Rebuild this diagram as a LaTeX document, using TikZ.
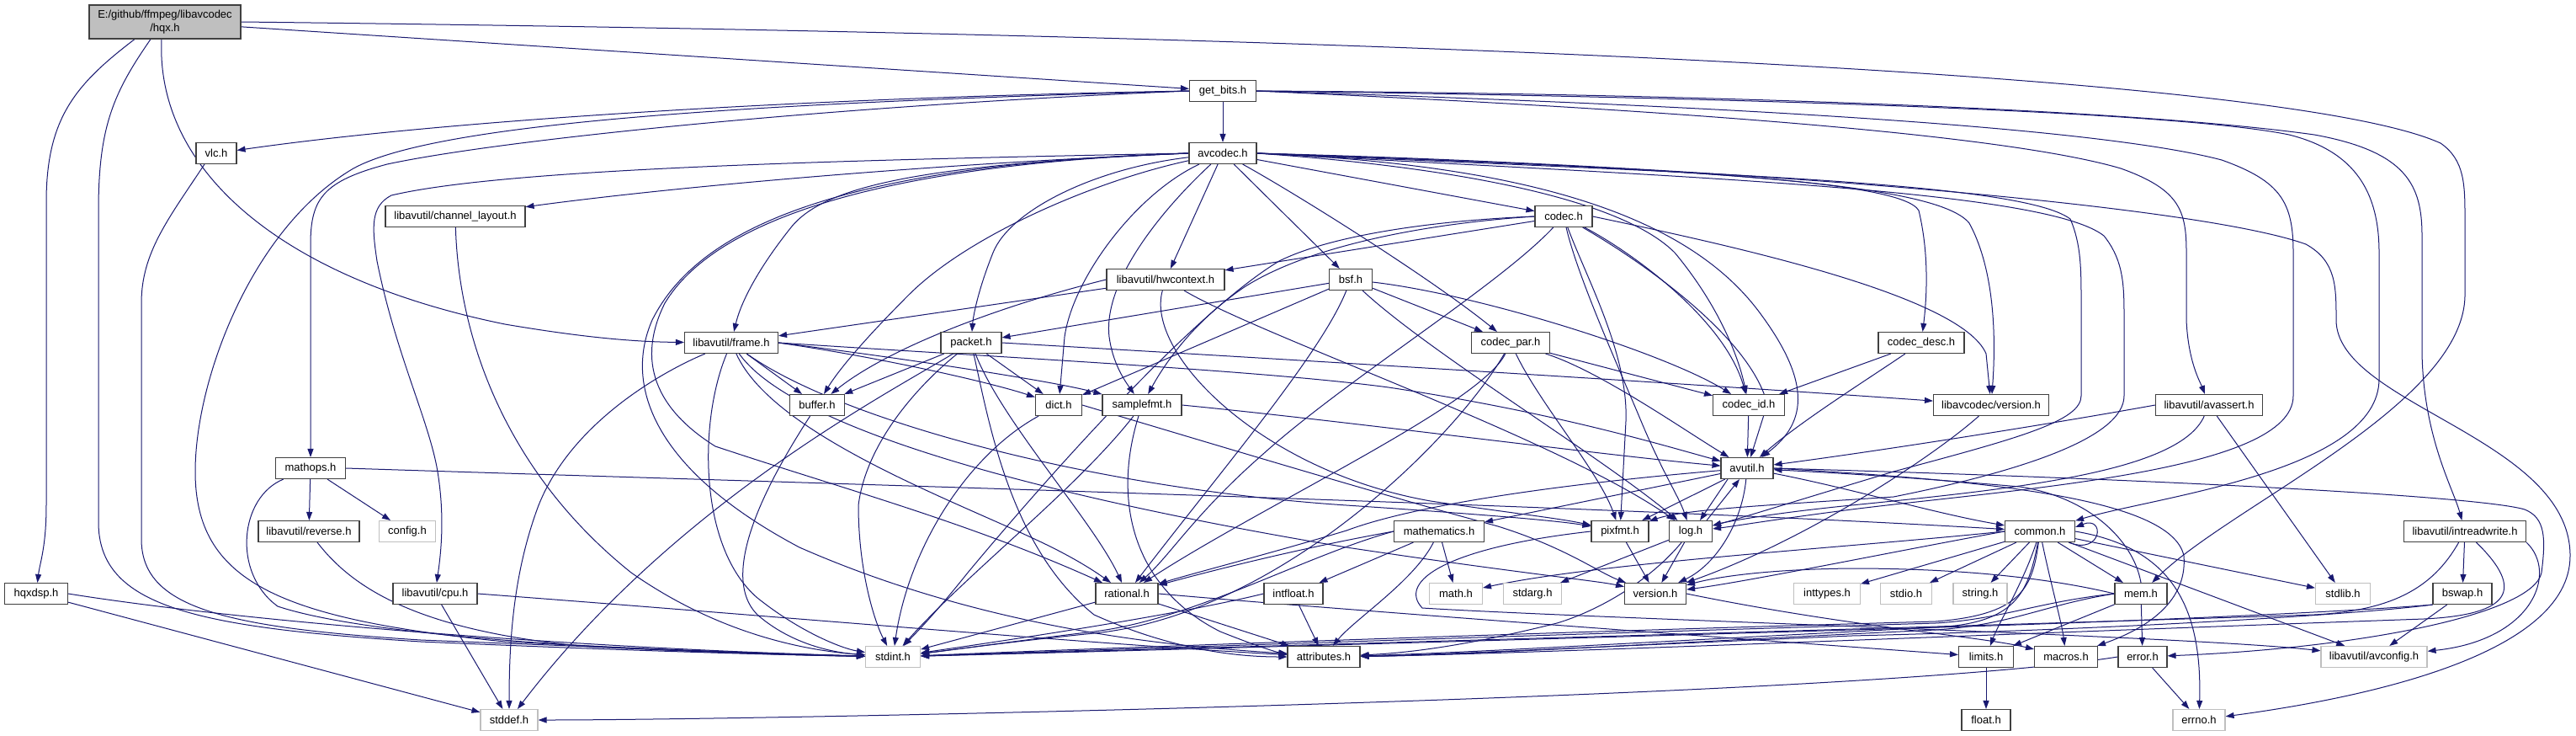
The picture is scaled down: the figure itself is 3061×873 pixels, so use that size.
\documentclass[tikz,border=0pt]{standalone}
\usepackage{fontspec}
\newfontfamily\dfont{Liberation Sans}
\usetikzlibrary{arrows.meta}
\definecolor{edgec}{HTML}{191970}
\definecolor{docb}{HTML}{404040}
\definecolor{sysb}{HTML}{BFBFBF}
\definecolor{rootf}{HTML}{BFBFBF}
\newcommand{\nfont}{\dfont\fontsize{13pt}{15.5pt}\selectfont}
\pgfdeclarelayer{bglayer}
\pgfdeclarelayer{edgelayer}
\pgfsetlayers{bglayer,edgelayer,main}
\begin{document}
\begin{tikzpicture}[x=1pt,y=-1pt,
  doc/.style={draw=docb, line width=1.1pt, fill=white, minimum height=25pt, inner sep=0pt, font=\nfont},
  sys/.style={doc, draw=sysb},
  mw/.style={minimum width=#1pt},
  ed/.style={draw=edgec, line width=1pt, -{Triangle[length=10pt,width=7pt]}},
]
\useasboundingbox (0,0) rectangle (3061,873);
\begin{pgfonlayer}{bglayer}
\fill[white] (0,0) rectangle (3061,873);
\end{pgfonlayer}
% nodes
\node[doc, fill=rootf, mw=180, minimum height=40pt, align=center] (hqx) at (196,26) {E:/github/ffmpeg/libavcodec\\/hqx.h};
\node[doc, mw=79] (getbits) at (1453,108) {get\_bits.h};
\node[doc, mw=48] (vlc) at (257,182) {vlc.h};
\node[doc, mw=80] (avcodec) at (1453,182) {avcodec.h};
\node[doc, mw=166] (chlayout) at (541,257) {libavutil/channel\_layout.h};
\node[doc, mw=68] (codec) at (1858,257) {codec.h};
\node[doc, mw=140] (hwctx) at (1385,332) {libavutil/hwcontext.h};
\node[doc, mw=51] (bsf) at (1605,332) {bsf.h};
\node[doc, mw=111] (frame) at (869,407) {libavutil/frame.h};
\node[doc, mw=72] (packet) at (1154,407) {packet.h};
\node[doc, mw=93] (codecpar) at (1795,407) {codec\_par.h};
\node[doc, mw=102] (codecdesc) at (2283,407) {codec\_desc.h};
\node[doc, mw=65] (buffer) at (971,481) {buffer.h};
\node[doc, mw=55] (dict) at (1258,481) {dict.h};
\node[doc, mw=94] (samplefmt) at (1357,481) {samplefmt.h};
\node[doc, mw=85] (codecid) at (2078,481) {codec\_id.h};
\node[doc, mw=137] (lavcver) at (2366,481) {libavcodec/version.h};
\node[doc, mw=127] (avassert) at (2625,481) {libavutil/avassert.h};
\node[doc, mw=83] (mathops) at (369,556) {mathops.h};
\node[doc, mw=62] (avutil) at (2076,556) {avutil.h};
\node[doc, mw=120] (reverse) at (367,631) {libavutil/reverse.h};
\node[sys, mw=67] (config) at (484,631) {config.h};
\node[doc, mw=107] (mathematics) at (1710,631) {mathematics.h};
\node[doc, mw=68] (pixfmt) at (1925,631) {pixfmt.h};
\node[doc, mw=51] (log) at (2009,631) {log.h};
\node[doc, mw=83] (common) at (2424,631) {common.h};
\node[doc, mw=145] (intrw) at (2929,631) {libavutil/intreadwrite.h};
\node[doc, mw=75] (hqxdsp) at (43,705) {hqxdsp.h};
\node[doc, mw=100] (cpu) at (517,705) {libavutil/cpu.h};
\node[doc, mw=74] (rational) at (1339,705) {rational.h};
\node[doc, mw=70] (intfloat) at (1537,705) {intfloat.h};
\node[sys, mw=63] (mathh) at (1730,705) {math.h};
\node[sys, mw=69] (stdarg) at (1821,705) {stdarg.h};
\node[doc, mw=73] (version) at (1967,705) {version.h};
\node[sys, mw=79] (inttypes) at (2171,705) {inttypes.h};
\node[sys, mw=61] (stdio) at (2265,705) {stdio.h};
\node[sys, mw=64] (stringh) at (2353,705) {string.h};
\node[doc, mw=62] (mem) at (2544,705) {mem.h};
\node[sys, mw=65] (stdlib) at (2784,705) {stdlib.h};
\node[doc, mw=70] (bswap) at (2926,705) {bswap.h};
\node[sys, mw=65] (stdint) at (1061,780) {stdint.h};
\node[doc, mw=86] (attributes) at (1573,780) {attributes.h};
\node[doc, mw=65] (limits) at (2360,780) {limits.h};
\node[doc, mw=75] (macros) at (2455,780) {macros.h};
\node[doc, mw=58] (error) at (2546,780) {error.h};
\node[sys, mw=126] (avconfig) at (2821,780) {libavutil/avconfig.h};
\node[sys, mw=68] (stddef) at (605,855) {stddef.h};
\node[doc, mw=58] (floath) at (2360,855) {float.h};
\node[sys, mw=62] (errno) at (2613,855) {errno.h};

\begin{pgfonlayer}{edgelayer}
% hqx
\draw[ed] (hqx) -- (getbits);
\draw[ed] (hqx.east) .. controls (1500,40) and (2700,80) .. (2900,170) .. controls (2929,190) and (2929,220) .. (2929,260) -- (2929,350) .. controls (2929,480) and (2650,600) .. (mem);
\draw[ed] ([xshift=-4pt]hqx.south) .. controls (185,200) and (330,330) .. (600,385) .. controls (700,402) and (760,406) .. (frame);
\draw[ed] ([xshift=-36pt]hqx.south) .. controls (90,100) and (55,140) .. (55,240) -- (55,600) .. controls (55,650) and (47,670) .. (hqxdsp);
\draw[ed] ([xshift=-17pt]hqx.south) .. controls (135,110) and (117,150) .. (117,250) -- (117,620) .. controls (117,720) and (230,745) .. (500,762) .. controls (800,775) and (950,778) .. (stdint);
% get_bits
\draw[ed] (getbits) -- (avcodec);
\draw[ed] (getbits.west) .. controls (1000,115) and (550,140) .. (vlc);
\draw[ed] (getbits.west) .. controls (900,122) and (520,145) .. (420,200) .. controls (300,270) and (232,450) .. (232,560) .. controls (232,690) and (330,735) .. (600,762) .. controls (850,775) and (980,778) .. (stdint);
\draw[ed] (getbits.west) .. controls (1000,125) and (600,165) .. (460,195) .. controls (385,215) and (369,235) .. (369,290) -- (mathops);
\draw[ed] (getbits.east) .. controls (1800,112) and (2550,125) .. (2720,160) .. controls (2800,180) and (2827,230) .. (2827,300) -- (2827,450) .. controls (2827,560) and (2560,590) .. (common);
\draw[ed] (getbits.east) .. controls (1900,110) and (2500,125) .. (2750,160) .. controls (2860,180) and (2878,220) .. (2878,280) -- (2878,420) .. controls (2880,520) and (2915,580) .. (intrw);
\draw[ed] (getbits.east) .. controls (1800,118) and (2450,140) .. (2640,190) .. controls (2710,215) and (2725,240) .. (2725,300) -- (2725,470) .. controls (2725,560) and (2400,580) .. (2200,605) .. controls (2100,618) and (2060,625) .. (log);
\draw[ed] (getbits.east) .. controls (1800,122) and (2350,150) .. (2520,200) .. controls (2590,225) and (2598,250) .. (2598,300) -- (2598,380) .. controls (2600,430) and (2615,455) .. (avassert);
% vlc
\draw[ed] ([xshift=-14pt]vlc.south) .. controls (200,260) and (168,300) .. (168,360) -- (168,640) .. controls (168,720) and (260,745) .. (500,760) .. controls (800,772) and (950,777) .. (stdint);
% avcodec
\draw[ed] (avcodec.west) .. controls (1100,195) and (800,222) .. (chlayout);
\draw[ed] (avcodec.west) .. controls (1000,190) and (600,200) .. (465,232) .. controls (440,245) and (442,270) .. (448,310) .. controls (470,420) and (510,500) .. (520,560) .. controls (528,610) and (525,650) .. (cpu);
\draw[ed] (avcodec.west) .. controls (1100,195) and (980,220) .. (940,270) .. controls (900,320) and (880,360) .. (frame);
\draw[ed] (avcodec) .. controls (1300,200) and (1200,250) .. (1180,300) .. controls (1160,350) and (1156,380) .. (packet);
\draw[ed] (avcodec) .. controls (1300,215) and (1150,280) .. (1080,350) .. controls (1010,420) and (990,450) .. (buffer);
\draw[ed] (avcodec) .. controls (1350,230) and (1275,330) .. (1265,400) -- (dict);
\draw[ed] (avcodec) .. controls (1390,240) and (1310,330) .. (1318,400) .. controls (1322,430) and (1335,450) .. (samplefmt);
\draw[ed] (avcodec) -- (hwctx);
\draw[ed] (avcodec) -- (bsf);
\draw[ed] (avcodec) .. controls (1540,230) and (1700,330) .. (codecpar);
\draw[ed] (avcodec) -- (codec);
\draw[ed] (avcodec.east) .. controls (1750,200) and (1930,240) .. (1990,300) .. controls (2040,360) and (2065,420) .. (codecid);
\draw[ed] (avcodec.east) .. controls (1800,195) and (2000,250) .. (2090,370) .. controls (2150,450) and (2150,500) .. (avutil);
\draw[ed] (avcodec.east) .. controls (2000,200) and (2260,215) .. (2280,250) .. controls (2292,300) and (2290,350) .. (codecdesc);
\draw[ed] (avcodec.east) .. controls (2000,200) and (2300,215) .. (2340,265) .. controls (2370,320) and (2372,400) .. (lavcver);
\draw[ed] (avcodec.east) .. controls (2000,195) and (2600,240) .. (2740,290) .. controls (2776,310) and (2776,340) .. (2776,380) .. controls (2776,480) and (3054,520) .. (3054,660) .. controls (3054,780) and (2800,830) .. (errno);
\draw[ed] (avcodec.east) .. controls (2000,205) and (2400,215) .. (2460,260) .. controls (2473,290) and (2473,320) .. (2473,360) -- (2473,470) .. controls (2473,500) and (2400,520) .. (2250,560) .. controls (2150,590) and (2070,615) .. (log);
\draw[ed] (avcodec.east) .. controls (2000,210) and (2430,225) .. (2500,280) .. controls (2524,310) and (2524,340) .. (2524,380) -- (2524,470) .. controls (2524,520) and (2400,560) .. (2250,590) .. controls (2100,600) and (2000,605) .. (pixfmt);
\draw[ed] (avcodec.west) .. controls (1050,195) and (850,260) .. (790,360) .. controls (760,420) and (770,480) .. (850,530) .. controls (1000,580) and (1150,620) .. (rational);
\draw[ed] (avcodec.west) .. controls (1000,195) and (830,270) .. (775,380) .. controls (740,460) and (780,560) .. (950,650) .. controls (1200,760) and (1450,770) .. (attributes);
% channel_layout
\draw[ed] (chlayout) .. controls (545,400) and (600,560) .. (750,680) .. controls (850,750) and (950,772) .. (stdint);
% codec
\draw[ed] (codec) -- (hwctx);
\draw[ed] (codec.west) .. controls (1700,262) and (1580,280) .. (1520,310) .. controls (1420,370) and (1250,560) .. (1150,680) .. controls (1110,730) and (1090,750) .. (stdint);
\draw[ed] (codec) .. controls (1780,340) and (1600,450) .. (1500,540) .. controls (1420,610) and (1390,660) .. (rational);
\draw[ed] (codec.west) .. controls (1700,265) and (1560,290) .. (1480,340) .. controls (1420,380) and (1385,430) .. (samplefmt);
\draw[ed] (codec) .. controls (1940,300) and (2050,380) .. (codecid);
\draw[ed] (codec) .. controls (1885,330) and (1935,420) .. (1932,500) -- (pixfmt);
\draw[ed] (codec) .. controls (1875,330) and (1925,440) .. (1950,500) .. controls (1975,560) and (1995,590) .. (log);
\draw[ed] (codec) .. controls (1950,310) and (2080,400) .. (2100,480) -- (avutil);
\draw[ed] (codec.east) .. controls (2050,290) and (2330,350) .. (2360,420) -- (lavcver);
% hwcontext
\draw[ed] (hwctx) -- (frame);
\draw[ed] (hwctx.west) .. controls (1200,360) and (1060,410) .. (buffer);
\draw[ed] (hwctx) .. controls (1500,400) and (1850,520) .. (log);
\draw[ed] (hwctx) .. controls (1360,420) and (1500,560) .. (1700,595) .. controls (1800,610) and (1850,615) .. (pixfmt);
% bsf
\draw[ed] (bsf) -- (packet);
\draw[ed] (bsf) -- (dict);
\draw[ed] (bsf) .. controls (1570,420) and (1450,560) .. (rational);
\draw[ed] (bsf) -- (codecpar);
\draw[ed] (bsf) .. controls (1760,350) and (1980,420) .. (codecid);
\draw[ed] (bsf) .. controls (1700,420) and (1900,540) .. (log);
% frame
\draw[ed] (frame) -- (buffer);
\draw[ed] (frame.east) .. controls (1050,425) and (1180,455) .. (dict);
\draw[ed] (frame.east) .. controls (1050,422) and (1250,452) .. (samplefmt);
\draw[ed] (frame.east) .. controls (1200,425) and (1500,440) .. (1650,460) .. controls (1850,490) and (1980,530) .. (avutil);
\draw[ed] (frame) .. controls (1000,500) and (1300,580) .. (1600,600) .. controls (1750,610) and (1850,618) .. (pixfmt);
\draw[ed] (frame) .. controls (950,520) and (1300,600) .. (1600,650) .. controls (1800,680) and (1900,690) .. (version);
\draw[ed] (frame) .. controls (920,520) and (1150,600) .. (1250,650) .. controls (1290,670) and (1310,685) .. (rational);
\draw[ed] (frame) .. controls (830,500) and (830,650) .. (900,710) .. controls (950,750) and (1000,770) .. (stdint);
\draw[ed] (frame) .. controls (790,440) and (680,500) .. (640,600) .. controls (610,680) and (605,760) .. (stddef);
% packet
\draw[ed] (packet) -- (buffer);
\draw[ed] (packet) -- (dict);
\draw[ed] (packet) .. controls (1100,450) and (1030,520) .. (1020,600) .. controls (1020,680) and (1040,740) .. (stdint);
\draw[ed] (packet) .. controls (1050,470) and (800,600) .. (stddef);
\draw[ed] (packet) .. controls (1190,500) and (1300,620) .. (rational);
\draw[ed] (packet) .. controls (1175,500) and (1200,650) .. (1300,730) .. controls (1400,775) and (1480,780) .. (attributes);
\draw[ed] (packet.east) .. controls (1500,425) and (2000,455) .. (lavcver);
% codec_par
\draw[ed] (codecpar) -- (codecid);
\draw[ed] (codecpar) .. controls (1900,440) and (2000,510) .. (avutil);
\draw[ed] (codecpar) .. controls (1830,480) and (1900,560) .. (pixfmt);
\draw[ed] (codecpar) .. controls (1760,480) and (1500,600) .. (rational);
\draw[ed] (codecpar) .. controls (1730,520) and (1520,730) .. (1300,752) .. controls (1200,762) and (1130,772) .. (stdint);
% codec_desc
\draw[ed] (codecdesc) -- (codecid);
\draw[ed] (codecdesc) .. controls (2220,450) and (2140,500) .. (avutil);
% buffer, dict, samplefmt, codec_id, lavc version, avassert
\draw[ed] (buffer) .. controls (920,560) and (850,680) .. (900,730) .. controls (940,765) and (990,775) .. (stdint);
\draw[ed] (dict) .. controls (1150,540) and (1080,650) .. (stdint);
\draw[ed] (dict.east) .. controls (1450,530) and (1650,590) .. (1780,625) .. controls (1860,650) and (1900,680) .. (version);
\draw[ed] (samplefmt) .. controls (1280,580) and (1150,680) .. (stdint);
\draw[ed] (samplefmt) .. controls (1320,600) and (1350,700) .. (1450,750) .. controls (1500,770) and (1520,775) .. (attributes);
\draw[ed] (samplefmt.east) .. controls (1600,500) and (1900,540) .. (avutil);
\draw[ed] (codecid) -- (avutil);
\draw[ed] (lavcver) .. controls (2300,540) and (2150,640) .. (version);
\draw[ed] (avassert) -- (stdlib);
\draw[ed] (avassert.west) .. controls (2400,510) and (2200,540) .. (avutil);
\draw[ed] (avassert) .. controls (2590,560) and (2400,580) .. (2200,600) .. controls (2100,610) and (2050,620) .. (log);
% mathops
\draw[ed] (mathops) -- (reverse);
\draw[ed] (mathops) -- (config);
\draw[ed] (mathops.east) .. controls (1000,575) and (1900,600) .. (common);
\draw[ed] (mathops) .. controls (285,590) and (275,680) .. (330,720) .. controls (450,760) and (800,775) .. (stdint);
\draw[ed] (reverse) .. controls (420,700) and (500,750) .. (700,768) .. controls (850,775) and (950,778) .. (stdint);
% hqxdsp, cpu
\draw[ed] (hqxdsp) -- (stddef);
\draw[ed] (hqxdsp.east) .. controls (300,740) and (700,770) .. (stdint);
\draw[ed] (cpu) -- (stddef);
\draw[ed] (cpu.east) .. controls (900,730) and (1300,765) .. (attributes);
% avutil
\draw[ed] ([xshift=-23pt]avutil.south) -- ([xshift=11pt]log.north);
\draw[ed] (avutil) -- (pixfmt);
\draw[ed] (avutil) -- (mathematics);
\draw[ed] (avutil) .. controls (2070,620) and (2040,670) .. (version);
\draw[ed] (avutil) .. controls (1850,575) and (1680,600) .. (1600,630) .. controls (1500,660) and (1420,680) .. (rational);
\draw[ed] (avutil) .. controls (2200,580) and (2300,610) .. (common);
\draw[ed] (avutil.east) .. controls (2600,570) and (2950,590) .. (3000,605) .. controls (3025,615) and (3025,640) .. (3020,680) .. controls (3010,730) and (2800,770) .. (error);
\draw[ed] (avutil.east) .. controls (2350,570) and (2580,590) .. (2595,660) .. controls (2600,720) and (2540,750) .. (macros);
% mathematics
\draw[ed] (mathematics) -- (mathh);
\draw[ed] (mathematics) -- (intfloat);
\draw[ed] (mathematics) .. controls (1680,690) and (1610,735) .. (attributes);
\draw[ed] (mathematics.west) .. controls (1550,650) and (1450,675) .. (rational);
\draw[ed] (mathematics.west) .. controls (1550,660) and (1420,735) .. (1300,750) .. controls (1200,762) and (1130,772) .. (stdint);
% pixfmt
\draw[ed] (pixfmt) -- (version);
\draw[ed] (pixfmt.west) .. controls (1720,650) and (1660,690) .. (1690,722) .. controls (1900,735) and (2600,755) .. (avconfig);
% log
\draw[ed] ([xshift=19pt]log.north) -- ([xshift=-9pt]avutil.south);
\draw[ed] (log) -- (stdarg);
\draw[ed] (log) -- (version);
\draw[ed] (log) .. controls (1960,690) and (1900,725) .. (1850,740) .. controls (1750,765) and (1680,775) .. (attributes);
% common
\draw[ed] (common) -- (stringh);
\draw[ed] (common) -- (stdio);
\draw[ed] (common) -- (inttypes);
\draw[ed] (common.west) .. controls (2200,650) and (1900,668) .. (mathh);
\draw[ed] (common.west) .. controls (2250,655) and (2080,690) .. (version);
\draw[ed] (common) .. controls (2415,700) and (2400,730) .. (2300,738) .. controls (1800,752) and (1300,770) .. (stdint);
\draw[ed] (common) .. controls (2410,705) and (2395,740) .. (2300,745) .. controls (2000,760) and (1750,775) .. (attributes);
\draw[ed] (common) .. controls (2405,690) and (2375,740) .. (limits);
\draw[ed] (common) .. controls (2436,690) and (2450,740) .. (macros);
\draw[ed] (common) -- (mem);
\draw[ed] (common) -- (stdlib);
\draw[ed] (common) -- (avconfig);
\draw[ed] (common.east) .. controls (2580,650) and (2617,720) .. (errno);
\draw[ed] ([xshift=-8pt]common.south east) .. controls (2498,660) and (2502,612) .. ([yshift=5pt]common.east);
% mem
\draw[ed] (mem) -- (error);
\draw[ed] (mem) -- (limits);
\draw[ed] (mem.north) .. controls (2535,640) and (2480,590) .. (2400,578) .. controls (2250,565) and (2150,560) .. (avutil);
\draw[ed] (mem.west) .. controls (2420,715) and (2380,735) .. (2300,740) .. controls (1800,755) and (1300,772) .. (stdint);
\draw[ed] (mem.west) .. controls (2430,718) and (2390,742) .. (2300,748) .. controls (2000,762) and (1750,778) .. (attributes);
\draw[ed] (mem.west) .. controls (2450,690) and (2350,675) .. (2200,675) .. controls (2100,676) and (2040,685) .. (version);
% intreadwrite, bswap
\draw[ed] (intrw) -- (bswap);
\draw[ed] (intrw.south east) .. controls (3040,680) and (3010,760) .. (avconfig);
\draw[ed] (intrw) .. controls (2890,700) and (2840,725) .. (2750,730) .. controls (2300,745) and (1400,770) .. (stdint);
\draw[ed] (intrw) .. controls (3000,700) and (2985,730) .. (2880,735) .. controls (2400,752) and (1800,777) .. (attributes);
\draw[ed] (bswap) -- (avconfig);
\draw[ed] (bswap.south west) .. controls (2800,726) and (2500,740) .. (2200,748) .. controls (1800,760) and (1300,774) .. (stdint);
\draw[ed] (bswap.south west) .. controls (2800,730) and (2500,748) .. (2200,755) .. controls (1900,768) and (1700,778) .. (attributes);
% error, limits, version, rational, intfloat
\draw[ed] (error) -- (errno);
\draw[ed] (error.west) .. controls (2200,830) and (900,855) .. (stddef);
\draw[ed] (limits) -- (floath);
\draw[ed] (version.east) .. controls (2200,745) and (2350,755) .. (macros);
\draw[ed] (rational) -- (stdint);
\draw[ed] (rational.east) .. controls (1600,725) and (2200,768) .. (limits);
\draw[ed] (rational) -- (attributes);
\draw[ed] (intfloat) -- (attributes);
\draw[ed] (intfloat.west) .. controls (1400,730) and (1200,760) .. (stdint);
\end{pgfonlayer}
\end{tikzpicture}
\end{document}
